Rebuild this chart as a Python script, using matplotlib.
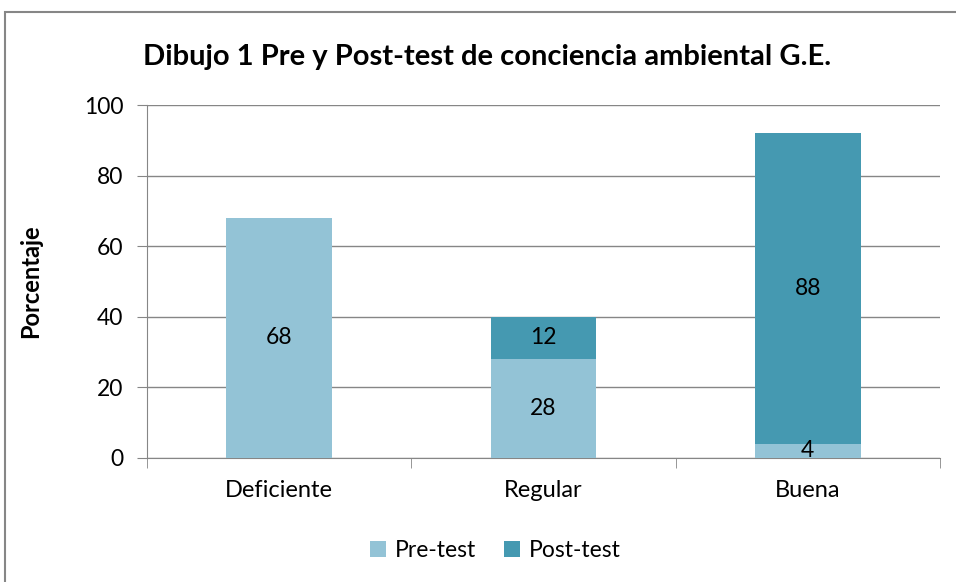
import numpy as np
import matplotlib.pyplot as plt
from matplotlib.patches import Rectangle

plt.rcParams['font.family'] = ['Lato', 'DejaVu Sans']

categories = ['Deficiente', 'Regular', 'Buena']
pre_test = [68, 28, 4]
post_test = [0, 12, 88]

c_pre = '#93c3d6'
c_post = '#4599b1'
gray = '#868686'

fig = plt.figure(figsize=(9.56, 5.82), dpi=100)
ax = fig.add_axes([147 / 956, 1 - 458 / 582, 793 / 956, 353 / 582])

# marco del gráfico
fig.patches.append(Rectangle((5 / 956, -0.2), 1.2, 1.2 - 12 / 582, transform=fig.transFigure,
                             fill=False, edgecolor=gray, lw=1.5))

x = np.arange(len(categories))
ax.bar(x, pre_test, width=0.4, color=c_pre, label='Pre-test', zorder=3)
ax.bar(x, post_test, width=0.4, bottom=pre_test, color=c_post, label='Post-test', zorder=3)

for i in range(len(categories)):
    if pre_test[i] > 0:
        ax.text(x[i], pre_test[i] / 2, str(pre_test[i]), ha='center', va='center', fontsize=16.5, zorder=4)
    if post_test[i] > 0:
        ax.text(x[i], pre_test[i] + post_test[i] / 2, str(post_test[i]), ha='center', va='center',
                fontsize=16.5, zorder=4)

ax.set_xlim(-0.5, 2.5)
ax.set_ylim(0, 100)
ax.set_yticks(range(0, 101, 20))
ax.set_xticks(x)
ax.set_xticklabels(categories)
ax.set_xticks([-0.5, 0.5, 1.5, 2.5], minor=True)
ax.tick_params(axis='x', which='major', length=0, pad=16, labelsize=17)
ax.tick_params(axis='x', which='minor', length=7, color=gray, direction='out')
ax.tick_params(axis='y', length=7, color=gray, labelsize=16.5, pad=10)
ax.yaxis.grid(True, color=gray, lw=1, zorder=0)

for s in ['top', 'right']:
    ax.spines[s].set_visible(False)
ax.spines['left'].set_color(gray)
ax.spines['bottom'].set_color(gray)

ax.set_ylabel('Porcentaje', fontsize=17, fontweight='bold', labelpad=30)
fig.text(487 / 956, 1 - 57 / 582, 'Dibujo 1 Pre y Post-test de conciencia ambiental G.E.',
         ha='center', va='center', fontsize=21, fontweight='bold')

ax.legend(loc='upper center', bbox_to_anchor=(0.439, -0.175), ncol=2, frameon=False, fontsize=16.5,
          handlelength=0.7, handleheight=0.7, columnspacing=1.2, handletextpad=0.4)

plt.savefig('out.png', dpi=100)
